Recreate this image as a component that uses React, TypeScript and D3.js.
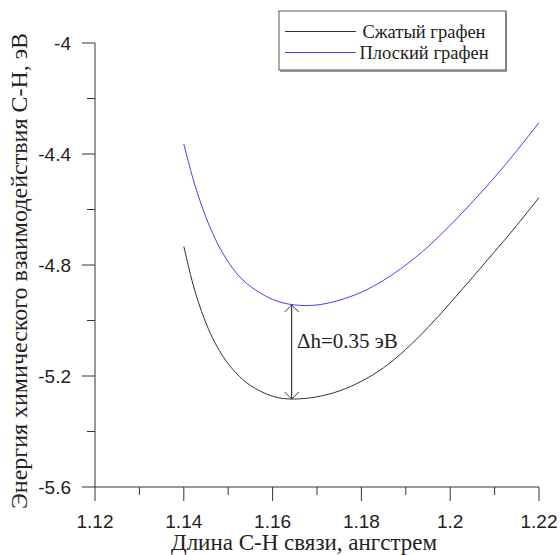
import React from "react";
import * as d3 from "d3";

const xValues = [1.14, 1.142, 1.144, 1.146, 1.148, 1.15, 1.152, 1.155, 1.16, 1.165, 1.17, 1.175, 1.18, 1.185, 1.19, 1.195, 1.2, 1.205, 1.21, 1.215, 1.22];
const compressed = [-4.733, -4.865, -4.967, -5.047, -5.108, -5.156, -5.193, -5.234, -5.273, -5.283, -5.275, -5.254, -5.219, -5.17, -5.104, -5.025, -4.937, -4.845, -4.752, -4.657, -4.557];
const flat = [-4.364, -4.485, -4.585, -4.668, -4.735, -4.789, -4.832, -4.877, -4.924, -4.944, -4.944, -4.927, -4.898, -4.855, -4.8, -4.734, -4.657, -4.573, -4.484, -4.388, -4.287];
const xTicks = [1.12, 1.14, 1.16, 1.18, 1.2, 1.22];
const xMinor = [1.13, 1.15, 1.17, 1.19, 1.21];
const yTicks = [-4, -4.4, -4.8, -5.2, -5.6];
const yMinor = [-4.2, -4.6, -5.0, -5.4];
const seriesNames = ["Сжатый графен", "Плоский графен"];
const annotation = { x: 1.1643, top: -4.944, bottom: -5.283, label: "Δh=0.35 эВ" };
const xTitle = "Длина С-Н связи, ангстрем";
const yTitle = "Энергия химического взаимодействия С-Н, эВ";

export default function App() {
  const x = d3.scaleLinear().domain([1.12, 1.22]).range([95, 539]);
  const y = d3.scaleLinear().domain([-4, -5.6]).range([43, 487]);
  const line = d3
    .line<number>()
    .x((_, i) => x(xValues[i]))
    .y((v) => y(v))
    .curve(d3.curveNatural);
  const axisColor = "#333";
  const sans = "'Liberation Sans', Arial, sans-serif";
  const serif = "'Liberation Serif', 'Times New Roman', serif";
  const ax = x(annotation.x);
  const at = y(annotation.top);
  const ab = y(annotation.bottom);
  return (
    <svg width={560} height={555} style={{ position: "absolute", left: 0, top: 0, background: "#fff" }}>
      {/* Y axis */}
      <line x1={95} x2={95} y1={y(-4)} y2={y(-5.6)} stroke={axisColor} strokeWidth={1} />
      {yTicks.map((t) => (
        <g key={"yt" + t}>
          <line x1={82} x2={95} y1={y(t)} y2={y(t)} stroke={axisColor} />
          <text x={71} y={y(t)} dy="0.36em" textAnchor="end" fontFamily={sans} fontSize={19} fill="#222">
            {String(t)}
          </text>
        </g>
      ))}
      {yMinor.map((t) => (
        <line key={"ym" + t} x1={87} x2={95} y1={y(t)} y2={y(t)} stroke={axisColor} />
      ))}
      {/* X axis */}
      <line x1={x(1.12)} x2={x(1.22)} y1={487} y2={487} stroke={axisColor} />
      {xTicks.map((t) => (
        <g key={"xt" + t}>
          <line x1={x(t)} x2={x(t)} y1={487} y2={501} stroke={axisColor} />
          <text x={x(t)} y={528} textAnchor="middle" fontFamily={sans} fontSize={19} fill="#222">
            {String(t)}
          </text>
        </g>
      ))}
      {xMinor.map((t) => (
        <line key={"xm" + t} x1={x(t)} x2={x(t)} y1={487} y2={495} stroke={axisColor} />
      ))}
      {/* Titles */}
      <text x={304} y={550} textAnchor="middle" fontFamily={serif} fontSize={23} fill="#222">
        {xTitle}
      </text>
      <text
        transform={`translate(27, 271) rotate(-90)`}
        textAnchor="middle"
        fontFamily={serif}
        fontSize={24}
        fill="#222"
      >
        {yTitle}
      </text>
      {/* Curves */}
      <path d={line(compressed) || ""} fill="none" stroke="#333" strokeWidth={1} />
      <path d={line(flat) || ""} fill="none" stroke="#4040ff" strokeWidth={1} />
      {/* Annotation */}
      <line x1={ax} x2={ax} y1={at} y2={ab} stroke="#111" />
      <path d={`M${ax - 7},${at + 7} L${ax},${at} L${ax + 7},${at + 7}`} fill="none" stroke="#333" />
      <path d={`M${ax - 7},${ab - 7} L${ax},${ab} L${ax + 7},${ab - 7}`} fill="none" stroke="#333" />
      <text x={297} y={348} fontFamily={serif} fontSize={21} fill="#222">
        {annotation.label}
      </text>
      {/* Legend */}
      <rect x={279} y={11} width={227} height={59} fill="#fff" stroke="#555" strokeWidth={1} />
      <line x1={506} x2={506} y1={12} y2={71} stroke="#777" strokeWidth={1.5} />
      <line x1={280} x2={507} y1={71} y2={71} stroke="#777" strokeWidth={1.5} />
      <line x1={285} x2={356} y1={31.5} y2={31.5} stroke="#333" />
      <line x1={285} x2={356} y1={52.5} y2={52.5} stroke="#4040ff" />
      <text x={424} y={37.5} textAnchor="middle" fontFamily={serif} fontSize={18.5} fill="#222">
        {seriesNames[0]}
      </text>
      <text x={424} y={58.5} textAnchor="middle" fontFamily={serif} fontSize={18.5} fill="#222">
        {seriesNames[1]}
      </text>
    </svg>
  );
}
